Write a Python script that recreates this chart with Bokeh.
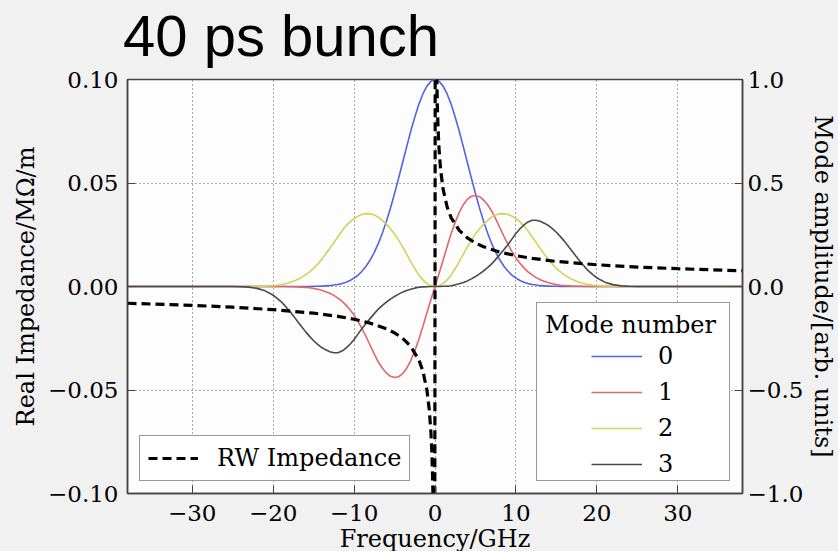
from bokeh.plotting import figure
from bokeh.models import Range1d, LinearAxis, FixedTicker, Legend, LegendItem, Div
from bokeh.layouts import column
from bokeh.embed import file_html
from bokeh.resources import INLINE

# ---------------- data ----------------
title_text = "40 ps bunch"
x_label = "Frequency/GHz"
y_label_left = "Real Impedance/MΩ/m"
y_label_right = "Mode amplitude/[arb. units]"

x_ticks = [-30, -20, -10, 0, 10, 20, 30]
x_tick_labels = ["−30", "−20", "−10", "0", "10", "20", "30"]
y_ticks = [-0.1, -0.05, 0, 0.05, 0.1]
y_tick_labels = ["−0.10", "−0.05", "0.00", "0.05", "0.10"]
amp_ticks = [-1, -0.5, 0, 0.5, 1]
amp_tick_labels = ["−1.0", "−0.5", "0.0", "0.5", "1.0"]

# frequency grid for the mode spectra (GHz)
freq = [-38, -25, -24, -23, -22, -21,
        -20.5, -20, -19.5, -19, -18.5, -18, -17.5, -17, -16.5, -16, -15.5, -15, -14.5, -14,
        -13.5, -13, -12.5, -12, -11.5, -11, -10.5, -10, -9.5, -9, -8.5, -8, -7.5, -7,
        -6.5, -6, -5.5, -5, -4.5, -4, -3.5, -3, -2.5, -2, -1.5, -1, -0.5,
        0,
        0.5, 1, 1.5, 2, 2.5, 3, 3.5, 4, 4.5, 5, 5.5, 6, 6.5, 7, 7.5, 8, 8.5, 9, 9.5, 10,
        10.5, 11, 11.5, 12, 12.5, 13, 13.5, 14, 14.5, 15, 15.5, 16, 16.5, 17, 17.5, 18,
        18.5, 19, 19.5, 20, 20.5,
        21, 22, 23, 24, 25, 38]

mode0 = [0, 0, 0, 0, 0, 0,
         0, 0, 0, 0, 0, 0, 0, 0, 0, 0, 0, 0.001, 0.001, 0.002,
         0.003, 0.004, 0.007, 0.010, 0.014, 0.021, 0.029, 0.041, 0.055, 0.075, 0.099, 0.129, 0.165, 0.208,
         0.258, 0.315, 0.379, 0.449, 0.523, 0.599, 0.675, 0.750, 0.818, 0.880, 0.930, 0.968, 0.992,
         1.0,
         0.992, 0.968, 0.930, 0.880, 0.818, 0.750, 0.675, 0.599, 0.523, 0.449, 0.379, 0.315, 0.258, 0.208,
         0.165, 0.129, 0.099, 0.075, 0.055, 0.041,
         0.029, 0.021, 0.014, 0.010, 0.007, 0.004, 0.003, 0.002, 0.001, 0.001, 0, 0, 0, 0, 0, 0,
         0, 0, 0, 0, 0,
         0, 0, 0, 0, 0, 0]

mode1 = [0, 0, 0, 0, 0, 0,
         0, 0, 0, 0, 0, -0.001, -0.001, -0.002, -0.003, -0.004, -0.006, -0.009, -0.013, -0.018,
         -0.025, -0.033, -0.043, -0.056, -0.071, -0.090, -0.112, -0.138, -0.170, -0.205, -0.244, -0.285, -0.327, -0.365,
         -0.395, -0.418, -0.434, -0.440, -0.436, -0.421, -0.395, -0.358, -0.311, -0.256, -0.193, -0.127, -0.063,
         0,
         0.063, 0.127, 0.193, 0.256, 0.311, 0.358, 0.395, 0.421, 0.436, 0.440, 0.434, 0.418, 0.395, 0.365,
         0.327, 0.285, 0.244, 0.205, 0.170, 0.138,
         0.112, 0.090, 0.071, 0.056, 0.043, 0.033, 0.025, 0.018, 0.013, 0.009, 0.006, 0.004, 0.003, 0.002, 0.001, 0.001,
         0, 0, 0, 0, 0,
         0, 0, 0, 0, 0, 0]

mode2 = [0, 0, 0, 0, 0.001, 0.002,
         0.003, 0.004, 0.006, 0.009, 0.013, 0.018, 0.025, 0.034, 0.044, 0.056, 0.071, 0.088, 0.108, 0.131,
         0.157, 0.184, 0.212, 0.240, 0.268, 0.293, 0.312, 0.328, 0.340, 0.349, 0.352, 0.351, 0.345, 0.335,
         0.319, 0.300, 0.279, 0.254, 0.224, 0.191, 0.156, 0.120, 0.087, 0.056, 0.032, 0.014, 0.004,
         0,
         0.004, 0.014, 0.032, 0.056, 0.087, 0.120, 0.156, 0.191, 0.224, 0.254, 0.279, 0.300, 0.319, 0.335,
         0.345, 0.351, 0.352, 0.349, 0.340, 0.328,
         0.312, 0.293, 0.268, 0.240, 0.212, 0.184, 0.157, 0.131, 0.108, 0.088, 0.071, 0.056, 0.044, 0.034, 0.025, 0.018,
         0.013, 0.009, 0.006, 0.004, 0.003,
         0.002, 0.001, 0, 0, 0, 0]

mode3 = [0, 0, -0.001, -0.003, -0.009, -0.021,
         -0.031, -0.042, -0.057, -0.074, -0.095, -0.117, -0.142, -0.168, -0.193, -0.218, -0.241, -0.262, -0.280, -0.295,
         -0.306, -0.315, -0.320, -0.320, -0.312, -0.298, -0.279, -0.256, -0.229, -0.202, -0.178, -0.154, -0.131, -0.109,
         -0.091, -0.075, -0.061, -0.048, -0.037, -0.027, -0.019, -0.013, -0.008, -0.004, -0.002, -0.001, 0,
         0,
         0, 0.001, 0.002, 0.004, 0.008, 0.013, 0.019, 0.027, 0.037, 0.048, 0.061, 0.075, 0.091, 0.109,
         0.131, 0.154, 0.178, 0.202, 0.229, 0.256,
         0.279, 0.298, 0.312, 0.320, 0.320, 0.315, 0.306, 0.295, 0.280, 0.262, 0.241, 0.218, 0.193, 0.168, 0.142, 0.117,
         0.095, 0.074, 0.057, 0.042, 0.031,
         0.021, 0.009, 0.003, 0.001, 0, 0]

mode_names = ["0", "1", "2", "3"]
mode_colors = ["#5565e0", "#e06868", "#d2d258", "#4a4a4a"]

# resistive-wall impedance (MΩ/m)
rw_freq = [-38, -30, -25, -20, -15, -12, -10, -8, -6, -5, -4, -3, -2, -1.5, -1, -0.7, -0.5, -0.4,
           -0.3, -0.2, -0.05, 0.05, 0.2, 0.3, 0.4, 0.5, 0.7, 1, 1.5, 2, 3, 4, 5, 6, 8, 10,
           12, 15, 20, 25, 30, 38]
rw_imp = [-0.0081, -0.0091, -0.0100, -0.0112, -0.0129, -0.0144, -0.0158, -0.0177, -0.0204,
          -0.0224, -0.0250, -0.0289, -0.0354, -0.0408, -0.0500, -0.0598, -0.0707, -0.0790,
          -0.0913, -0.1118, -0.2236, 0.2102, 0.1051, 0.0858, 0.0743, 0.0665, 0.0562, 0.0470,
          0.0384, 0.0332, 0.0271, 0.0235, 0.0210, 0.0192, 0.0166, 0.0149, 0.0136, 0.0121,
          0.0105, 0.0094, 0.0086, 0.0076]
rw_name = "RW Impedance"
legend_title = "Mode number"

BG = "#f1f1f1"
SERIF = "DejaVu Serif"

# ---------------- slide title (HTML text above the plot) ----------------
head = Div(text=('<div style="position:absolute; left:123px; top:7px; '
                 "font-family:'Liberation Sans'; font-size:58px; line-height:58px; "
                 'color:black; white-space:nowrap;">' + title_text + '</div>'),
           width=838, height=64, margin=0,
           styles={"position": "relative", "overflow": "visible"})

# ---------------- figure ----------------
p = figure(frame_width=615, frame_height=414, output_backend="svg", toolbar_location=None,
           title=None,
           x_range=Range1d(-38, 38), y_range=Range1d(-0.1, 0.1),
           min_border_left=127, min_border_right=96, min_border_top=15, min_border_bottom=58,
           background_fill_color="#fdfdfd", border_fill_color=BG, border_fill_alpha=0)
p.extra_y_ranges = {"amp": Range1d(-1, 1)}

p.outline_line_color = "#444444"
p.outline_line_width = 1.5

p.xaxis.ticker = FixedTicker(ticks=x_ticks)
p.xaxis.major_label_overrides = dict(zip(x_ticks, x_tick_labels))
p.yaxis.ticker = FixedTicker(ticks=y_ticks)
p.yaxis.major_label_overrides = dict(zip(y_ticks, y_tick_labels))
p.xaxis.axis_label = x_label
p.yaxis.axis_label = y_label_left

ax_r = LinearAxis(y_range_name="amp", ticker=FixedTicker(ticks=amp_ticks),
                  axis_label=y_label_right)
ax_r.major_label_overrides = dict(zip(amp_ticks, amp_tick_labels))
p.add_layout(ax_r, "right")

for ax in [p.xaxis[0], p.yaxis[0], ax_r]:
    ax.axis_line_color = "#444444"
    ax.axis_line_width = 1.5
    ax.major_tick_in = 8
    ax.major_tick_out = 0
    ax.major_tick_line_color = "#444444"
    ax.minor_tick_line_color = None
    ax.major_label_text_font = SERIF
    ax.major_label_text_font_size = "23px"
    ax.major_label_text_color = "black"
    ax.axis_label_text_font = SERIF
    ax.axis_label_text_font_size = "24px"
    ax.axis_label_text_font_style = "normal"
    ax.axis_label_text_color = "black"
p.xaxis.major_label_standoff = 11
p.xaxis.axis_label_standoff = 1
p.yaxis.major_label_standoff = 9
p.yaxis.axis_label_standoff = 5
ax_r.major_label_standoff = 5
ax_r.axis_label_standoff = 3

p.grid.grid_line_color = "#555555"
p.grid.grid_line_dash = "1 3"
p.grid.grid_line_width = 1

# ---------------- glyphs ----------------
mode_vals = [mode0, mode1, mode2, mode3]
mode_renderers = []
for name, vals, col in zip(mode_names, mode_vals, mode_colors):
    r = p.line(freq, vals, line_color=col, line_width=1.6, y_range_name="amp")
    mode_renderers.append(r)

rw = p.line(rw_freq, rw_imp, line_color="black", line_width=3.2, line_dash="9 5")

# ---------------- legends ----------------
dummy = p.line(x=[], y=[], line_alpha=0)

box = Legend(items=[LegendItem(label=" ", renderers=[dummy])],
             location="bottom_right", margin=12, title=legend_title,
             title_text_font=SERIF, title_text_font_size="24px", title_text_font_style="normal",
             title_text_color="black",
             label_text_font_size="24px", glyph_height=133, label_height=133, glyph_width=1,
             label_standoff=0, label_width=175,
             padding=8, title_standoff=0, spacing=0,
             border_line_color="#333333", border_line_width=1.3,
             background_fill_color="white", background_fill_alpha=1.0)
p.add_layout(box)

modes_leg = Legend(items=[LegendItem(label=n, renderers=[r]) for n, r in zip(mode_names, mode_renderers)],
                   location=(464, 11), label_text_font=SERIF, label_text_font_size="24px",
                   label_text_color="black",
                   glyph_width=51, glyph_height=36, label_height=36, label_standoff=16,
                   padding=0, spacing=0, border_line_color=None,
                   background_fill_alpha=0)
p.add_layout(modes_leg)

rw_leg = Legend(items=[LegendItem(label=rw_name, renderers=[rw])],
                location="bottom_left", margin=12, label_text_font=SERIF, label_text_font_size="24px",
                label_text_color="black",
                glyph_width=50, glyph_height=26, label_height=26, label_standoff=19,
                padding=8, spacing=0, border_line_color="#333333", border_line_width=1.3,
                background_fill_color="white", background_fill_alpha=1.0)
p.add_layout(rw_leg)

page = column(head, p, spacing=0, styles={"background-color": BG})
open("out.html", "w").write(file_html(page, INLINE))
